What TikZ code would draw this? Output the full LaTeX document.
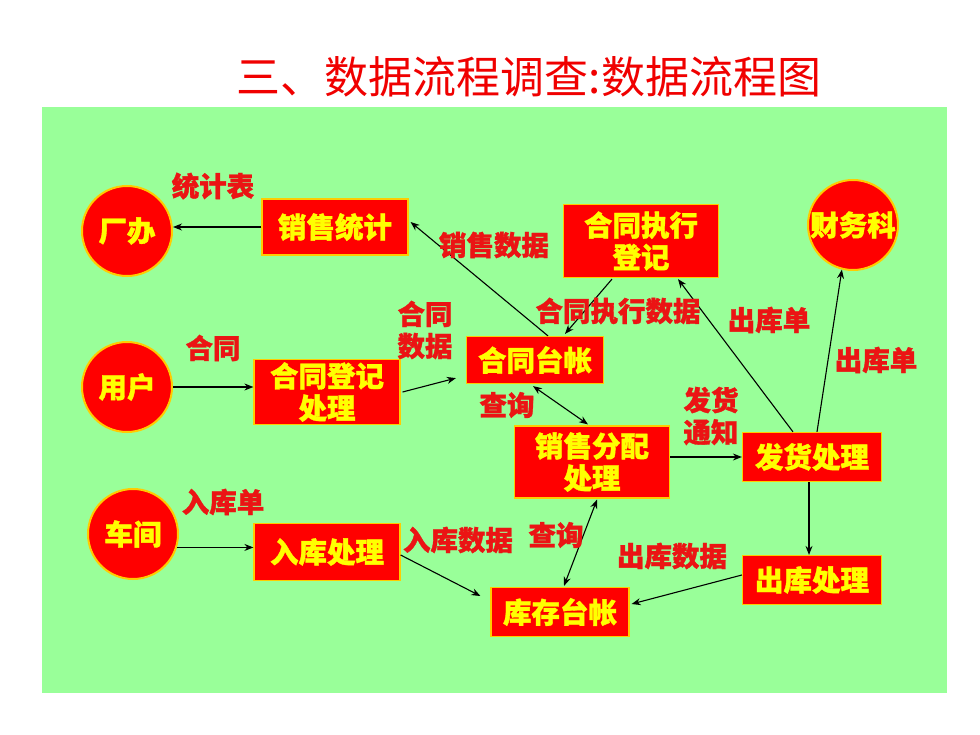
\documentclass[tikz,border=0pt]{standalone}
\usepackage{fontspec}
\setmainfont{Noto Sans CJK SC}[BoldFeatures={FakeBold=1.2}]
\newfontfamily\cjk{Noto Sans CJK SC}
\usetikzlibrary{calc,arrows.meta}
\definecolor{bgGreen}{RGB}{153,255,153}
\definecolor{boxRed}{RGB}{255,0,0}
\definecolor{txtYellow}{RGB}{255,255,0}
\definecolor{edgeYellow}{RGB}{255,204,0}
\definecolor{lblRed}{RGB}{235,20,20}
\definecolor{titleRed}{RGB}{240,0,0}
\tikzset{
  procbox/.style={draw=edgeYellow, line width=1.2pt, fill=boxRed, text=txtYellow,
    font=\fontsize{28.5}{32}\selectfont\bfseries, align=center, inner sep=0pt},
  extent/.style={circle, draw=edgeYellow, line width=2pt, fill=boxRed, text=txtYellow,
    font=\fontsize{28.5}{32}\selectfont\bfseries, minimum size=90pt, inner sep=0pt},
  flowlbl/.style={text=lblRed, font=\fontsize{27.5}{32}\selectfont\bfseries, align=center, inner sep=0pt},
  flow/.style={draw=black, line width=1.1pt, -{Stealth[length=9pt,width=7pt]}},
  flow2/.style={draw=black, line width=1.1pt, {Stealth[length=9pt,width=7pt]}-{Stealth[length=9pt,width=7pt]}}
}
\begin{document}
\begin{tikzpicture}[x=1pt,y=-1pt]
\useasboundingbox (0,0) rectangle (980,735);
\fill[white] (0,0) rectangle (980,735);
\fill[bgGreen] (42,107) rectangle (947,693);
\node[text=titleRed, font=\fontsize{44}{48}\selectfont, inner sep=0pt] (title) at (529,77) {三、数据流程调查:数据流程图};

% external entities
\node[extent] (cb) at (127,231) {厂办};
\node[extent] (yh) at (127,387) {用户};
\node[extent] (cj) at (133,534) {车间};
\node[extent] (cwk) at (853,225) {财务科};

% processes / stores
\node[procbox, minimum width=146pt, minimum height=56pt] (xstj) at (335,227) {销售统计};
\node[procbox, minimum width=146pt, minimum height=65pt] (htdj) at (327,392) {合同登记\\处理};
\node[procbox, minimum width=146pt, minimum height=57pt] (rkcl) at (327,552) {入库处理};
\node[procbox, minimum width=137pt, minimum height=47pt] (httz) at (535,360) {合同台帐};
\node[procbox, minimum width=155pt, minimum height=73pt] (htzx) at (641,241) {合同执行\\登记};
\node[procbox, minimum width=155pt, minimum height=72pt] (xsfp) at (592,462) {销售分配\\处理};
\node[procbox, minimum width=139pt, minimum height=49pt] (fhcl) at (812,457) {发货处理};
\node[procbox, minimum width=139pt, minimum height=49pt] (ckcl) at (812,580) {出库处理};
\node[procbox, minimum width=138pt, minimum height=49pt] (kctz) at (560,612) {库存台帐};

% connectors
\draw[flow] (xstj.west) -- (xstj.west -| cb.east);
\draw[flow] (yh.east) -- (yh.east -| htdj.west);
\draw[flow] (cj.-17) -- (cj.-17 -| rkcl.west);
\draw[flow] ($(htdj.east)+(2,0)$) -- ($(httz.south west)+(-10,-6)$);
\draw[flow] ($(httz.north)+(13,0)$) -- ($(xstj.east)+(2,-5)$);
\draw[flow] ($(htzx.south)+(-29,1)$) -- ($(httz.north)+(30,-2)$);
\draw[flow] ($(fhcl.north)+(-19,0)$) -- ($(htzx.south)+(37,1)$);
\draw[flow] ($(fhcl.north)+(5,0)$) -- (cwk.256);
\draw[flow2] ($(httz.south)+(-2,2)$) -- ($(xsfp.north)+(-4,-1)$);
\draw[flow] (xsfp.east |- fhcl.west) -- (fhcl.west);
\draw[flow] ($(fhcl.south)+(-3,0)$) -- ($(ckcl.north)+(-3,0)$);
\draw[flow] ($(ckcl.west)+(0,-5)$) -- ($(kctz.east)+(2,-8)$);
\draw[flow] ($(rkcl.east)+(0,3)$) -- ($(kctz.west)+(-10,-16)$);
\draw[flow2] ($(kctz.north)+(4,-1)$) -- ($(xsfp.south)+(5,1)$);

% flow labels
\node[flowlbl] (l1) at (213,186) {统计表};
\node[flowlbl] (l2) at (494,245) {销售数据};
\node[flowlbl] (l3) at (213,348) {合同};
\node[flowlbl] (l4) at (425,330) {合同\\数据};
\node[flowlbl] (l5) at (618,311) {合同执行数据};
\node[flowlbl] (l6) at (769,320) {出库单};
\node[flowlbl] (l7) at (876,360) {出库单};
\node[flowlbl] (l8) at (507,405) {查询};
\node[flowlbl] (l9) at (711,416) {发货\\通知};
\node[flowlbl] (l10) at (223,502) {入库单};
\node[flowlbl] (l11) at (458,540) {入库数据};
\node[flowlbl] (l12) at (556,535) {查询};
\node[flowlbl] (l13) at (672,556) {出库数据};
\end{tikzpicture}
\end{document}
